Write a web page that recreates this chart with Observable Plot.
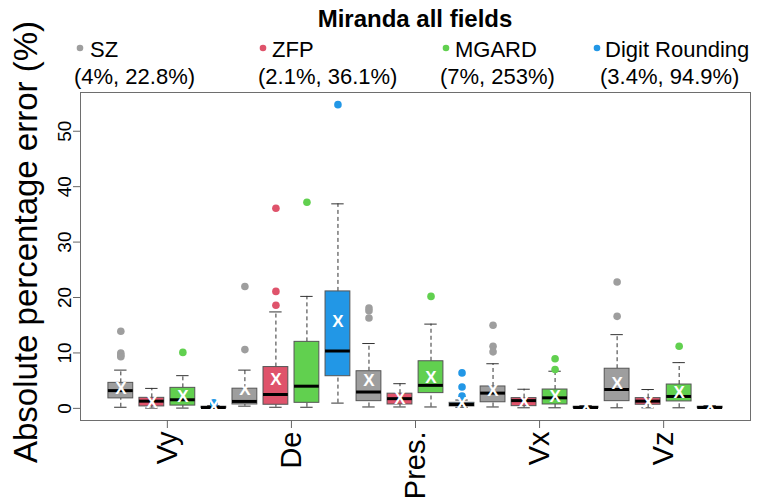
<!DOCTYPE html>
<html>
<head>
<meta charset="utf-8">
<script src="https://cdn.jsdelivr.net/npm/d3@7"></script>
<script src="https://cdn.jsdelivr.net/npm/@observablehq/plot@0.6"></script>
<style>
  html, body { margin: 0; padding: 0; background: white; }
  #chart { width: 765px; height: 499px; }
</style>
</head>
<body>
<div id="chart"></div>
<script>
// ---- data ----
const fields = ["Vy", "De", "Pres.", "Vx", "Vz"];
const methods = ["SZ", "ZFP", "MGARD", "Digit Rounding"];
const methodSummary = ["(4%, 22.8%)", "(2.1%, 36.1%)", "(7%, 253%)", "(3.4%, 94.9%)"];
const methodColors = ["#9E9E9E", "#DF536B", "#61D04F", "#2297E6"];
const yTicks = [0, 10, 20, 30, 40, 50];

// rows: SZ, ZFP, MGARD, Digit Rounding ; columns: Vy, De, Pres., Vx, Vz
const lowWhisker = [
  [0.2, 0.4, 0.25, 0.25, 0.1],
  [0.05, 0.2, 0.25, 0.1, 0.1],
  [0.05, 0.2, 0.25, 0.1, 0.1],
  [0.0, 0.95, 0.2, 0.0, 0.0]
];
const q1 = [
  [1.8, 0.7, 1.3, 1.1, 1.3],
  [0.35, 0.65, 0.7, 0.4, 0.65],
  [0.5, 1.0, 2.75, 0.7, 1.25],
  [0.05, 5.8, 0.35, 0.05, 0.05]
];
const median = [
  [3.2, 1.25, 2.95, 2.75, 3.4],
  [1.3, 2.5, 1.75, 1.4, 1.3],
  [1.55, 4.0, 4.15, 1.9, 2.15],
  [0.15, 10.35, 0.7, 0.15, 0.15]
];
const q3 = [
  [4.6, 3.55, 6.7, 3.95, 7.15],
  [1.9, 7.45, 2.65, 1.85, 1.85],
  [3.7, 12.0, 8.5, 3.4, 4.3],
  [0.3, 21.1, 1.0, 0.3, 0.3]
];
const highWhisker = [
  [6.9, 6.9, 11.7, 8.05, 13.3],
  [3.6, 17.4, 4.45, 3.45, 3.4],
  [5.9, 20.2, 15.2, 6.7, 8.25],
  [0.5, 36.9, 1.5, 0.5, 0.5]
];
const meanValue = [
  [3.6, 3.4, 5.05, 3.2, 4.55],
  [1.0, 5.2, 1.7, 1.2, 1.1],
  [2.1, 60.0, 5.55, 2.2, 2.9],
  [0.35, 15.75, 0.95, 0.25, 0.25]
];
const outliers = [
  [[13.9, 10.0, 9.6, 9.3], [22.0, 10.6], [18.1, 17.6, 16.3], [15.0, 11.2, 10.2], [22.8, 16.6]],
  [[], [36.1, 21.1, 18.6], [], [], []],
  [[10.1], [37.2, 253], [20.2], [8.95, 7.0], [11.2]],
  [[0.85, 1.0], [54.8, 94.9], [6.4, 3.85, 2.2], [], []]
];

// ---- build tables ----
const yDomain = [-2.19, 56.99];
const boxes = [];
const points = [];
fields.forEach((f, fi) => {
  methods.forEach((m, mi) => {
    const pos = fi * 4 + mi + 1;
    boxes.push({
      pos, field: f, method: m, color: methodColors[mi],
      lo: lowWhisker[mi][fi], q1: q1[mi][fi], med: median[mi][fi],
      q3: q3[mi][fi], hi: highWhisker[mi][fi], mean: meanValue[mi][fi]
    });
    outliers[mi][fi].forEach(v => points.push({pos, v, color: methodColors[mi]}));
  });
});
const groupTicks = fields.map((f, i) => i * 4 + 2.5);
const inView = v => v <= yDomain[1];

const boxHalf = 0.4, capHalf = 0.2;

const chart = Plot.plot({
  width: 765,
  height: 499,
  marginLeft: 80,
  marginRight: 15,
  marginTop: 92,
  marginBottom: 79,
  style: {fontFamily: "Liberation Sans, Arial, sans-serif", background: "white", color: "black"},
  x: {domain: [-0.3, 21.3]},
  y: {domain: yDomain},
  color: {type: "identity"},
  marks: [
    Plot.frame({stroke: "#6e6e6e"}),
    // whiskers
    Plot.ruleX(boxes, {x: "pos", y1: "q3", y2: "hi", stroke: "#333", strokeDasharray: "4,3"}),
    Plot.ruleX(boxes, {x: "pos", y1: "lo", y2: "q1", stroke: "#333", strokeDasharray: "4,3"}),
    Plot.ruleY(boxes, {y: "hi", x1: d => d.pos - capHalf, x2: d => d.pos + capHalf, stroke: "#333"}),
    Plot.ruleY(boxes, {y: "lo", x1: d => d.pos - capHalf, x2: d => d.pos + capHalf, stroke: "#333"}),
    // boxes
    Plot.rect(boxes, {x1: d => d.pos - boxHalf, x2: d => d.pos + boxHalf, y1: "q1", y2: "q3", fill: "color", stroke: "#555", strokeWidth: 1}),
    Plot.ruleY(boxes, {y: "med", x1: d => d.pos - boxHalf, x2: d => d.pos + boxHalf, stroke: "black", strokeWidth: 3}),
    // outliers (values above the axis range are off-chart)
    Plot.dot(points, {x: "pos", y: "v", fill: "color", r: 3.8, filter: d => inView(d.v)}),
    // means
    Plot.text(boxes, {x: "pos", y: "mean", text: () => "X", fill: "white", fontSize: 17, fontWeight: "bold", filter: d => inView(d.mean)}),
    // axes
    Plot.axisX({ticks: groupTicks, tickFormat: d => fields[Math.round((d - 2.5) / 4)], tickSize: 8, tickPadding: 3, tickRotate: -90, fontSize: 29, stroke: "#666", fill: "black", label: null}),
    Plot.axisY({ticks: yTicks, tickSize: 7, tickPadding: 3, tickRotate: -90, fontSize: 19, stroke: "#666", fill: "black", label: null})
  ]
});
document.getElementById("chart").appendChild(chart);

// ---- title, legend, y label ----
const svg = d3.select(chart);
const font = "Liberation Sans, Arial, sans-serif";
svg.append("text").attr("x", 415).attr("y", 27).attr("text-anchor", "middle")
  .attr("font-family", font).attr("font-size", 24).attr("font-weight", "bold").text("Miranda all fields");

const dotX = [80, 263, 446, 597];
const text1X = [90, 272, 455, 605];
const text2X = [74, 258, 440, 600];
methods.forEach((m, i) => {
  svg.append("circle").attr("cx", dotX[i]).attr("cy", 48).attr("r", 3.3).attr("fill", methodColors[i]);
  svg.append("text").attr("x", text1X[i]).attr("y", 57).attr("text-anchor", "start")
    .attr("font-family", font).attr("font-size", 22).text(m);
  svg.append("text").attr("x", text2X[i]).attr("y", 84).attr("text-anchor", "start")
    .attr("font-family", font).attr("font-size", 22).text(methodSummary[i]);
});

svg.append("text").attr("transform", "translate(37,242) rotate(-90)").attr("text-anchor", "middle")
  .attr("font-family", font).attr("font-size", 33).text("Absolute percentage error (%)");
</script>
</body>
</html>
